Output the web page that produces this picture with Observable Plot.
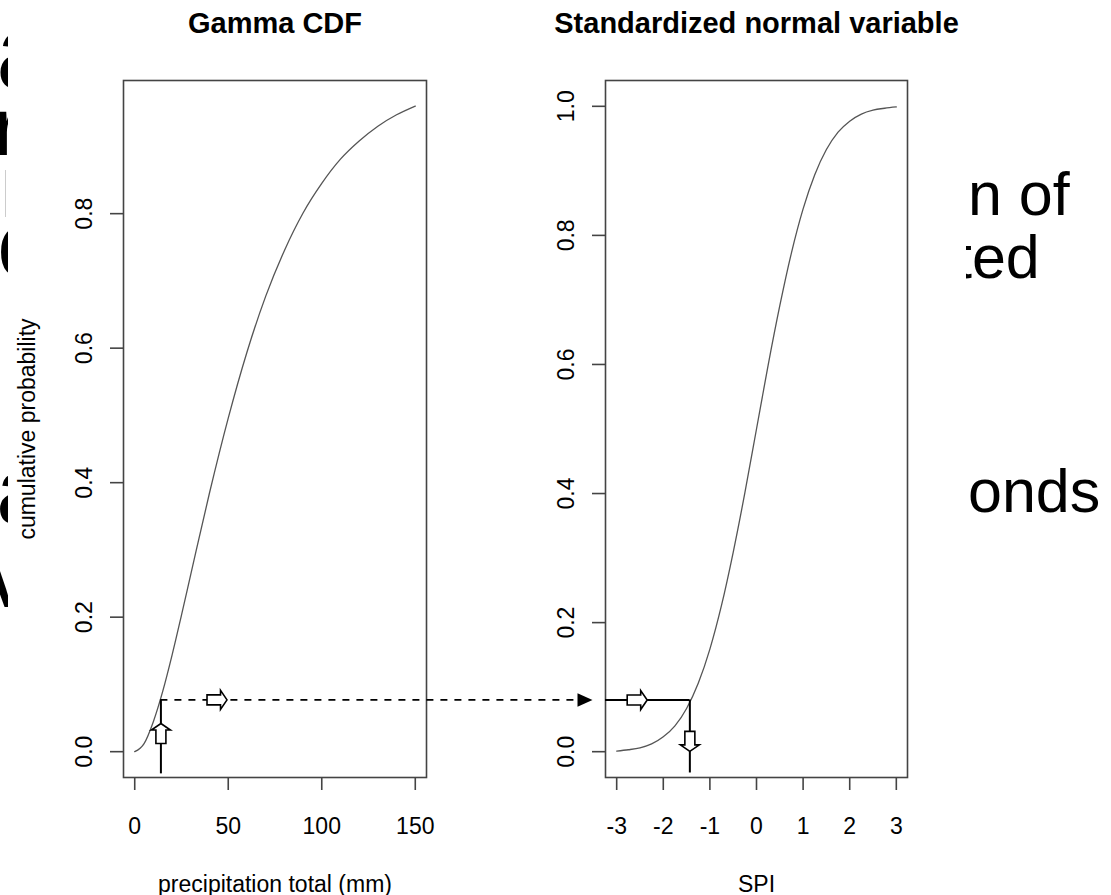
<!DOCTYPE html>
<html><head><meta charset="utf-8">
<script src="https://cdn.jsdelivr.net/npm/d3@7"></script>
<script src="https://cdn.jsdelivr.net/npm/@observablehq/plot@0.6"></script>
<style>
html,body{margin:0;padding:0;background:#fff;}
#page{position:relative;width:1111px;height:895px;overflow:hidden;font-family:"Liberation Sans",Arial,sans-serif;}
#slide,#slideLeft{position:absolute;left:0;top:0;overflow:hidden;}
#sheet{position:absolute;left:8px;top:0;width:958px;height:895px;background:#fff;}
.panel{position:absolute;left:0;top:0;}
</style></head><body><div id="page"></div>
<script>
// ---- data ----
const gammaX = [0,5,10,15,20,25,30,40,50,60,70,80,90,100,110,120,130,140,150];
const gammaP = [0,0.012,0.045,0.090,0.144,0.203,0.264,0.385,0.496,0.594,0.677,0.745,0.801,0.845,0.881,0.908,0.930,0.947,0.960];
const spiX = [-3,-2.75,-2.5,-2.25,-2,-1.75,-1.5,-1.25,-1,-0.75,-0.5,-0.25,0,0.25,0.5,0.75,1,1.25,1.5,1.75,2,2.25,2.5,2.75,3];
const spiP = [0.001,0.003,0.006,0.012,0.023,0.040,0.067,0.106,0.159,0.227,0.309,0.401,0.5,0.599,0.691,0.773,0.841,0.894,0.933,0.960,0.977,0.988,0.994,0.997,0.999];
const gammaTicks = [0,50,100,150];
const spiTicks = [-3,-2,-1,0,1,2,3];
const probTicksLeft = [0,0.2,0.4,0.6,0.8];
const probTicksRight = [0,0.2,0.4,0.6,0.8,1];
const titles = ["Gamma CDF","Standardized normal variable"];
const xLabels = ["precipitation total (mm)","SPI"];
const yLabel = "cumulative probability";
// example transformation
const exampleMM = 14, exampleSPI = -1.43;
const exampleProbLeft = 0.077, exampleProbRight = 0.080;
const lineBottom = -0.033;
const arrowsLeft = [{x:14, y:0.027, dir:"up"}, {x:44, y:0.077, dir:"right"}];
const arrowsRight = [{x:-2.56, y:0.080, dir:"right"}, {x:-1.43, y:0.016, dir:"down"}];
// background slide text fragments
const slideTextLeft = [
  {t:"a", x:-4, y:88, s:105}, {t:"r", x:-6, y:155, s:82}, {t:"c", x:-3, y:277, s:95},
  {t:"a", x:-4, y:523, s:95}, {t:"v", x:-14, y:607, s:95}
];
const slideTextRight = [
  {t:"n of", x:968, y:215, s:61}, {t:"ted", x:955, y:278, s:61}, {t:"onds", x:968, y:512, s:61}
];

// ---- layout ----
const W = 1111, H = 895, T = 80, B = 777;
const L1 = 123, R1 = 426, L2 = 605, R2 = 907;
const xDomL = [-6, 156], yDomL = [-0.0384, 0.998];
const xDomR = [-3.24, 3.24], yDomR = [-0.04, 1.04];
const font = "'Liberation Sans', Arial, Helvetica, sans-serif";
const fs = 23;

const page = document.getElementById("page");
// slide behind
const slide = d3.select(page).append("svg").attr("id","slide").attr("width",W).attr("height",H);
slide.selectAll("text").data(slideTextRight).join("text")
  .attr("x",d=>d.x).attr("y",d=>d.y).attr("font-size",d=>d.s)
  .attr("font-family",font).attr("fill","#000").text(d=>d.t);
const slideL = d3.select(page).append("svg").attr("id","slideLeft").attr("width",8).attr("height",H);
slideL.selectAll("text").data(slideTextLeft).join("text")
  .attr("x",d=>d.x).attr("y",d=>d.y).attr("font-size",d=>d.s)
  .attr("font-family",font).attr("fill","#000").text(d=>d.t);
slideL.append("line").attr("x1",5.5).attr("x2",5.5).attr("y1",170).attr("y2",217).attr("stroke","#ccc").attr("stroke-width",1);
const sheet = document.createElement("div"); sheet.id = "sheet"; page.appendChild(sheet);

function hollowArrow(dir){
  return {draw(ctx, size){
    const r = Math.sqrt(size/Math.PI);
    const hl = 0.65*r, hw = 0.95*r, sw = 0.5*r;
    let pts = [[0,-r],[hw,-r+hl],[sw,-r+hl],[sw,r],[-sw,r],[-sw,-r+hl],[-hw,-r+hl]];
    const a = (dir==="up"?0:dir==="right"?90:180)*Math.PI/180, c = Math.cos(a), s = Math.sin(a);
    pts = pts.map(([x,y]) => [x*c - y*s, x*s + y*c]);
    ctx.moveTo(pts[0][0], pts[0][1]);
    for (const p of pts.slice(1)) ctx.lineTo(p[0], p[1]);
    ctx.closePath();
  }};
}
const solidTriangle = {draw(ctx, size){
  const r = Math.sqrt(size/Math.PI);
  ctx.moveTo(r,0); ctx.lineTo(-r,-0.9*r); ctx.lineTo(-r,0.9*r); ctx.closePath();
}};

const xL = d3.scaleLinear(xDomL, [L1, R1]);
const connectorEnd = xL.invert(L2 - 28);
const connectorHead = xL.invert(L2 - 20.5);

function common(title, xlab, ticksX, ticksY){
  return [
    Plot.frame({stroke:"#444", strokeWidth:1.6}),
    Plot.axisX({ticks:ticksX, tickSize:13, tickPadding:27, fontSize:fs, stroke:"#444", strokeWidth:1.6, label:null, tickFormat:d=>String(d)}),
    Plot.axisY({ticks:ticksY, tickSize:13, tickPadding:19, tickRotate:-90, fontSize:fs, stroke:"#444", strokeWidth:1.6, label:null, tickFormat:d3.format(".1f")}),
    Plot.text([title], {text:d=>d, frameAnchor:"top", dy:-57, fontSize:29, fontWeight:"bold", lineAnchor:"middle", textAnchor:"middle"}),
    Plot.text([xlab], {text:d=>d, frameAnchor:"bottom", dy:107, fontSize:fs, lineAnchor:"middle", textAnchor:"middle"})
  ];
}

const left = Plot.plot({
  width: W, height: H,
  marginLeft: L1, marginRight: W - R1, marginTop: T, marginBottom: H - B,
  x: {domain: xDomL}, y: {domain: yDomL},
  style: {background:"transparent", fontFamily: font, overflow:"visible"},
  marks: [
    ...common(titles[0], xLabels[0], gammaTicks, probTicksLeft),
    Plot.text([yLabel], {text:d=>d, frameAnchor:"left", dx:-96, rotate:-90, fontSize:fs, textAnchor:"middle", lineAnchor:"middle"}),
    Plot.line(gammaX, {x:d=>d, y:(d,i)=>gammaP[i], stroke:"#555", strokeWidth:1.3, curve:"monotone-x"}),
    Plot.ruleY([exampleProbLeft], {x1:exampleMM, x2:connectorEnd, stroke:"#000", strokeWidth:1.6, strokeDasharray:"7,7"}),
    Plot.ruleX([exampleMM], {y1:lineBottom, y2:exampleProbLeft, stroke:"#000", strokeWidth:2}),
    Plot.dot([connectorHead], {x:d=>d, y:()=>exampleProbLeft, symbol:solidTriangle, r:7.5, fill:"#000", stroke:"none"}),
    ...arrowsLeft.map(a => Plot.dot([a], {x:"x", y:"y", symbol:hollowArrow(a.dir), r:10, fill:"#fff", stroke:"#000", strokeWidth:1.6}))
  ]
});
left.classList.add("panel");
page.appendChild(left);

const right = Plot.plot({
  width: W, height: H,
  marginLeft: L2, marginRight: W - R2, marginTop: T, marginBottom: H - B,
  x: {domain: xDomR}, y: {domain: yDomR},
  style: {background:"transparent", fontFamily: font, overflow:"visible"},
  marks: [
    ...common(titles[1], xLabels[1], spiTicks, probTicksRight),
    Plot.line(spiX, {x:d=>d, y:(d,i)=>spiP[i], stroke:"#555", strokeWidth:1.3, curve:"monotone-x"}),
    Plot.ruleY([exampleProbRight], {x1:xDomR[0], x2:exampleSPI, stroke:"#000", strokeWidth:2}),
    Plot.ruleX([exampleSPI], {y1:lineBottom, y2:exampleProbRight, stroke:"#000", strokeWidth:2}),
    ...arrowsRight.map(a => Plot.dot([a], {x:"x", y:"y", symbol:hollowArrow(a.dir), r:10, fill:"#fff", stroke:"#000", strokeWidth:1.6}))
  ]
});
right.classList.add("panel");
page.appendChild(right);
</script></body></html>
